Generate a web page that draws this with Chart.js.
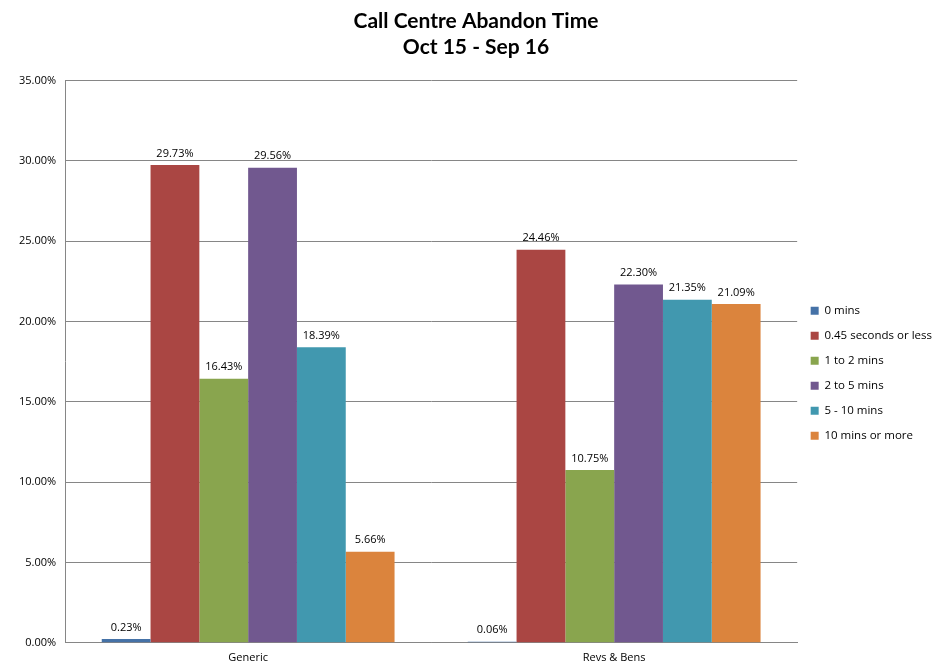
<!DOCTYPE html>
<html>
<head>
<meta charset="utf-8">
<script src="https://cdn.jsdelivr.net/npm/chart.js@4"></script>
<style>
  html, body { margin: 0; padding: 0; background: #fff; }
  #wrap { width: 942px; height: 665px; }
</style>
</head>
<body>
<div id="wrap"><canvas id="abandonChart" width="942" height="665"></canvas></div>
<script>
// Chart data
const categories = ['Generic', 'Revs & Bens'];
const seriesNames = ['0 mins', '0.45 seconds or less', '1 to 2 mins', '2 to 5 mins', '5 - 10 mins', '10 mins or more'];
const zeroMins = [0.23, 0.06];
const under45s = [29.73, 24.46];
const oneToTwo = [16.43, 10.75];
const twoToFive = [29.56, 22.30];
const fiveToTen = [18.39, 21.35];
const tenPlus = [5.66, 21.09];
const seriesColors = ['#4572A7', '#AA4643', '#89A54E', '#71588F', '#4198AF', '#DB843D'];

const allSeries = [zeroMins, under45s, oneToTwo, twoToFive, fiveToTen, tenPlus];

// Draw the value above each bar
const barValueLabels = {
    id: 'barValueLabels',
    afterDatasetsDraw(chart) {
        const c = chart.ctx;
        c.save();
        c.font = '11px "Open Sans", sans-serif';
        c.fillStyle = '#000';
        c.textAlign = 'center';
        c.textBaseline = 'bottom';
        chart.data.datasets.forEach((ds, i) => {
            const meta = chart.getDatasetMeta(i);
            meta.data.forEach((bar, j) => {
                c.fillText(ds.data[j].toFixed(2) + '%', bar.x, bar.y - 6);
            });
        });
        c.restore();
    }
};

const ctx = document.getElementById('abandonChart').getContext('2d');
const abandonChart = new Chart(ctx, {
    type: 'bar',
    data: {
        labels: categories,
        datasets: allSeries.map((vals, i) => ({
            label: seriesNames[i],
            data: vals,
            backgroundColor: seriesColors[i],
            borderWidth: 0,
            categoryPercentage: 0.8,
            barPercentage: 1.0
        }))
    },
    options: {
        responsive: false,
        animation: false,
        layout: {
            padding: { left: 10, right: 0, top: 6, bottom: -7 }
        },
        plugins: {
            title: {
                display: true,
                text: ['Call Centre Abandon Time', 'Oct 15 - Sep 16'],
                font: { family: 'Lato', size: 21, weight: 'bold' },
                color: '#000',
                lineHeight: 1.5,
                padding: { top: 3, bottom: 21 }
            },
            legend: {
                position: 'right',
                title: {
                    display: true,
                    text: '',
                    padding: { top: 54, bottom: 0 }
                },
                labels: {
                    boxWidth: 8,
                    boxHeight: 8,
                    padding: 13.5,
                    color: '#000',
                    font: { family: '"Open Sans"', size: 11.5 }
                }
            },
            tooltip: { enabled: false }
        },
        scales: {
            x: {
                grid: { display: false, drawTicks: false },
                border: { color: '#868686' },
                ticks: {
                    color: '#000',
                    padding: 8,
                    font: { family: '"Open Sans"', size: 11 }
                }
            },
            y: {
                min: 0,
                max: 35,
                grid: { color: '#868686', drawTicks: false },
                border: { color: '#868686' },
                ticks: {
                    stepSize: 5,
                    color: '#000',
                    padding: 9,
                    font: { family: '"Open Sans"', size: 11 },
                    callback: v => v.toFixed(2) + '%'
                }
            }
        }
    },
    plugins: [barValueLabels]
});
</script>
</body>
</html>
